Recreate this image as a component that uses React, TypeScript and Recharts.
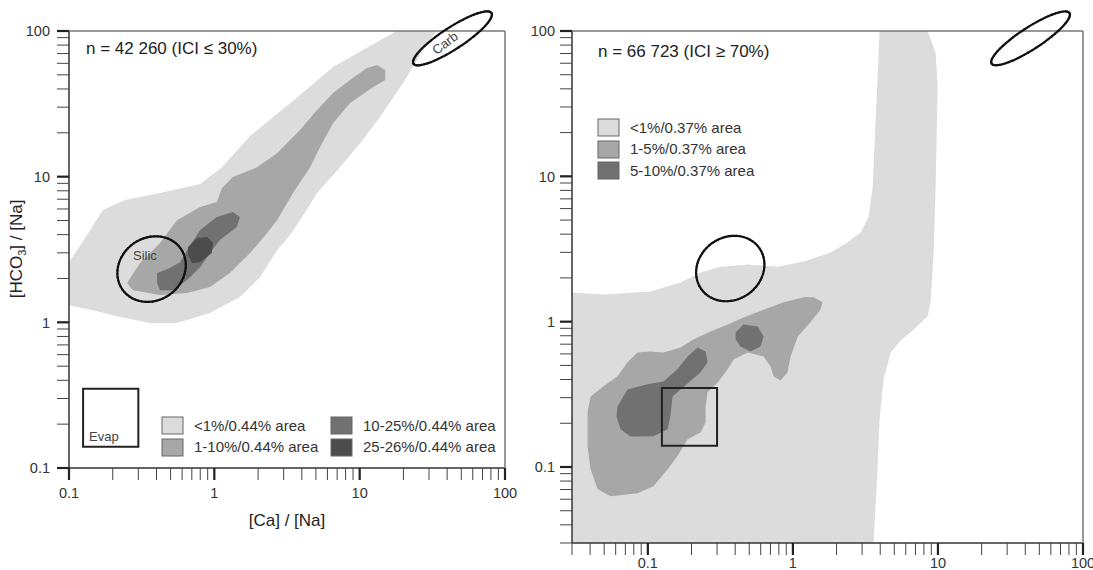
import React from "react"
import { ScatterChart, Scatter, XAxis, YAxis, ReferenceArea, ReferenceLine, Curve } from "recharts"

// contour outlines, [Ca]/[Na] (x) vs [HCO3]/[Na] (y), left panel (ICI <= 30%)
const leftBand1: [number, number][] = [
  [0.1, 1.31], [0.1, 2.59], [0.129, 3.79], [0.171, 5.9], [0.243, 6.91], [0.423, 7.71], [0.798, 8.89],
  [1.13, 11.6], [1.76, 19.0], [3.89, 36.3], [6.56, 56.6], [10.5, 74.1], [17.0, 96.9], [17.8, 100],
  [34.1, 100], [33.0, 96.9], [27.3, 74.1], [19.9, 44.0], [13.8, 25.7], [10.1, 17.0], [7.33, 11.6],
  [5.09, 7.71], [3.89, 5.03], [3.32, 3.97], [2.7, 3.13], [2.06, 2.04], [1.5, 1.49], [0.933, 1.16],
  [0.553, 0.989], [0.36, 0.989], [0.224, 1.09], [0.146, 1.21],
]
const leftBand2: [number, number][] = [
  [0.251, 1.86], [0.308, 2.55], [0.423, 3.5], [0.553, 5.03], [0.798, 6.18], [1.04, 6.69], [1.13, 8.35],
  [1.34, 9.94], [1.97, 11.6], [2.7, 14.5], [3.89, 20.9], [5.09, 28.7], [6.56, 37.5], [8.59, 46.1],
  [11.2, 55.7], [13.2, 58.4], [15.0, 54.0], [15.0, 46.1], [12.4, 41.2], [8.59, 32.0], [6.56, 23.3],
  [5.34, 16.0], [4.56, 11.6], [3.48, 7.71], [2.7, 5.03], [2.31, 4.1], [1.76, 2.99], [1.28, 2.18],
  [0.933, 1.75], [0.649, 1.59], [0.423, 1.54], [0.275, 1.66],
]
const leftBand3: [number, number][] = [
  [0.404, 1.86], [0.404, 2.18], [0.495, 2.36], [0.581, 2.59], [0.649, 3.13], [0.798, 4.3], [1.04, 5.28],
  [1.34, 5.71], [1.5, 5.28], [1.43, 4.51], [1.09, 3.67], [0.933, 2.99], [0.798, 2.39], [0.649, 1.95],
  [0.52, 1.66], [0.423, 1.66],
]
const leftBand4: [number, number][] = [
  [0.659, 3.28], [0.76, 3.79], [0.891, 3.85], [0.98, 3.5], [0.96, 2.99], [0.798, 2.59], [0.703, 2.55], [0.659, 2.9],
]

// right panel (ICI >= 70%)
const rightBand1: [number, number][] = [
  [0.03, 0.03], [0.03, 1.59], [0.0495, 1.54], [0.104, 1.61], [0.168, 1.86], [0.231, 2.18], [0.317, 2.39],
  [0.488, 2.47], [0.783, 2.39], [1.19, 2.59], [1.82, 2.99], [2.38, 3.5], [2.93, 4.1], [3.33, 5.28],
  [3.55, 8.48], [3.72, 24.5], [3.9, 70.6], [3.96, 100], [8.49, 100], [9.64, 70.6], [9.95, 41.2],
  [9.64, 8.48], [9.34, 2.99], [8.91, 1.36], [8.49, 1.09], [6.8, 0.883], [5.53, 0.743], [4.72, 0.614],
  [4.22, 0.401], [3.96, 0.213], [3.78, 0.0738], [3.6, 0.03],
]
const rightBand2: [number, number][] = [
  [0.0403, 0.0966], [0.045, 0.0705], [0.0553, 0.063], [0.0849, 0.066], [0.109, 0.0738], [0.137, 0.0966],
  [0.16, 0.119], [0.188, 0.155], [0.231, 0.173], [0.25, 0.203], [0.25, 0.262], [0.258, 0.327],
  [0.303, 0.382], [0.355, 0.47], [0.39, 0.55], [0.488, 0.614], [0.628, 0.577], [0.701, 0.492],
  [0.736, 0.421], [0.822, 0.394], [0.918, 0.448], [0.964, 0.577], [1.08, 0.791], [1.32, 0.989],
  [1.55, 1.21], [1.6, 1.36], [1.39, 1.47], [1.19, 1.47], [0.863, 1.36], [0.628, 1.21], [0.457, 1.07],
  [0.355, 0.957], [0.27, 0.857], [0.206, 0.755], [0.168, 0.665], [0.128, 0.614], [0.104, 0.624],
  [0.0849, 0.614], [0.0724, 0.525], [0.0618, 0.421], [0.0495, 0.359], [0.0403, 0.306], [0.0384, 0.238],
  [0.0384, 0.139],
]
const rightBand3a: [number, number][] = [
  [0.0618, 0.262], [0.0724, 0.342], [0.0995, 0.371], [0.128, 0.388], [0.16, 0.47], [0.188, 0.577],
  [0.22, 0.665], [0.25, 0.624], [0.258, 0.525], [0.231, 0.448], [0.168, 0.342], [0.148, 0.306],
  [0.143, 0.223], [0.137, 0.182], [0.109, 0.163], [0.076, 0.162], [0.0648, 0.182], [0.0608, 0.223],
]
const rightBand3b: [number, number][] = [
  [0.403, 0.843], [0.457, 0.957], [0.572, 0.927], [0.628, 0.791], [0.598, 0.676], [0.51, 0.624],
  [0.435, 0.676], [0.403, 0.755],
]

// end-member fields (center, semi-axes in decades, tilt in degrees)
const silic = { x: 0.37, y: 2.32, a: 0.245, b: 0.215, angle: 35 }
const carb = { x: 43.5, y: 89, a: 0.32, b: 0.075, angle: 33 }
const evap = { x1: 0.125, x2: 0.3, y1: 0.14, y2: 0.35 }

const ticksLeft = [0.1, 0.2, 0.3, 0.4, 0.5, 0.6, 0.7, 0.8, 0.9, 1, 2, 3, 4, 5, 6, 7, 8, 9, 10, 20, 30, 40, 50, 60, 70, 80, 90, 100]
const ticksRight = [0.03, 0.04, 0.05, 0.06, 0.07, 0.08, 0.09, ...ticksLeft]
const majorTicks = [0.1, 1, 10, 100]
const majorLabels = ["0.1", "1", "10", "100"]

const legendLeft = ["<1%/0.44% area", "1-10%/0.44% area", "10-25%/0.44% area", "25-26%/0.44% area"]
const legendRight = ["<1%/0.37% area", "1-5%/0.37% area", "5-10%/0.37% area"]

const C1 = "#dcdcdc"
const C2 = "#a7a7a7"
const C3 = "#717171"
const C4 = "#4c4c4c"
const FONT = "'Liberation Sans', Arial, sans-serif"
const TICK_LEN = 12

const toPts = (arr: [number, number][]) => arr.map(([x, y]) => ({ x, y }))

function ellipse(e: typeof silic, n = 60) {
  const pts: { x: number; y: number }[] = []
  const t = (e.angle * Math.PI) / 180
  for (let i = 0; i < n; i++) {
    const p = (i / n) * 2 * Math.PI
    const lx = Math.log10(e.x) + e.a * Math.cos(p) * Math.cos(t) - e.b * Math.sin(p) * Math.sin(t)
    const ly = Math.log10(e.y) + e.a * Math.cos(p) * Math.sin(t) + e.b * Math.sin(p) * Math.cos(t)
    pts.push({ x: 10 ** lx, y: 10 ** ly })
  }
  return pts
}

function Outline({ e }: { e: typeof silic }) {
  const pts = ellipse(e)
  return (
    <>
      {pts.map((p, i) => (
        <ReferenceLine
          key={i}
          segment={[p, pts[(i + 1) % pts.length]]}
          ifOverflow="visible"
          stroke="#111"
          strokeWidth={2.2}
          strokeLinecap="round"
          zIndex={1000}
        />
      ))}
    </>
  )
}

const makeXTick = (gap: number, lift = 0) => (props: any) => {
  const { x, y, payload } = props
  const idx = majorTicks.indexOf(payload.value)
  if (idx < 0) return <g />
  return (
    <g>
      <line x1={x} x2={x} y1={y - gap - TICK_LEN} y2={y - gap} stroke="#222" strokeWidth={2.2} />
      <text x={x} y={y - lift} dy="0.72em" textAnchor="middle" fontSize={14.5} fill="#333" fontFamily={FONT}>
        {majorLabels[idx]}
      </text>
    </g>
  )
}

const makeYTick = (gap: number) => (props: any) => {
  const { x, y, payload } = props
  const idx = majorTicks.indexOf(payload.value)
  if (idx < 0) return <g />
  return (
    <g>
      <line x1={x + gap} x2={x + gap + TICK_LEN} y1={y} y2={y} stroke="#222" strokeWidth={2.2} />
      <text x={x} y={y} dy="0.36em" textAnchor="end" fontSize={14.5} fill="#333" fontFamily={FONT}>
        {majorLabels[idx]}
      </text>
    </g>
  )
}

const band = (data: [number, number][], color: string, key: string) => (
  <Scatter
    key={key}
    data={toPts(data)}
    isAnimationActive={false}
    zIndex={100}
    shape={() => <g />}
    lineType="joint"
    line={(p: any) => <Curve points={p.points} type="linearClosed" fill={color} stroke="none" />}
  />
)

function Swatch({ x, y, color }: { x: number; y: number; color: string }) {
  return <rect x={x} y={y} width={21} height={17} fill={color} stroke="#666" strokeWidth={1} />
}

export default function App() {
  const axisLine = { stroke: "#333", strokeWidth: 1.5 }
  return (
    <div style={{ position: "absolute", left: 0, top: 0, width: 1093, height: 570, background: "#fff", fontFamily: FONT }}>
      <div style={{ position: "absolute", left: 0, top: 0 }}>
        <ScatterChart width={546} height={570} margin={{ top: 31, right: 41, bottom: 42, left: 20 }}>
          {band(leftBand1, C1, "l1")}
          {band(leftBand2, C2, "l2")}
          {band(leftBand3, C3, "l3")}
          {band(leftBand4, C4, "l4")}
          <XAxis
            dataKey="x"
            type="number"
            scale="log"
            domain={[0.1, 100]}
            allowDataOverflow
            ticks={ticksLeft}
            interval={0}
            tickSize={TICK_LEN}
            tickMargin={8}
            tickLine={{ stroke: "#444" }}
            tick={makeXTick(8)}
            axisLine={axisLine}
            height={60}
            label={{ value: "[Ca] / [Na]", position: "insideBottom", offset: 2, fontSize: 17, fill: "#222", fontFamily: FONT }}
          />
          <YAxis
            dataKey="y"
            type="number"
            scale="log"
            domain={[0.1, 100]}
            allowDataOverflow
            ticks={ticksLeft}
            interval={0}
            tickSize={TICK_LEN}
            tickMargin={7}
            tickLine={{ stroke: "#444" }}
            tick={makeYTick(7)}
            axisLine={axisLine}
            width={49}
          />
          <ReferenceLine y={100} stroke="#777" strokeWidth={1.5} zIndex={1000} />
          <ReferenceLine x={100} stroke="#777" strokeWidth={1.5} zIndex={1000} />
          <ReferenceArea
            {...evap}
            fill="none"
            stroke="#222"
            strokeWidth={2}
            fillOpacity={0}
            zIndex={1000}
            label={{ value: "Evap", position: "insideBottomLeft", offset: 6, fontSize: 13, fill: "#444", fontFamily: FONT }}
          />
          <Outline e={silic} />
          <Outline e={carb} />
        </ScatterChart>
      </div>

      <div style={{ position: "absolute", left: 520, top: 0 }}>
        <ScatterChart width={573} height={570} margin={{ top: 31, right: 10, bottom: 0, left: 12 }}>
          {band(rightBand1, C1, "r1")}
          {band(rightBand2, C2, "r2")}
          {band(rightBand3a, C3, "r3a")}
          {band(rightBand3b, C3, "r3b")}
          <XAxis
            dataKey="x"
            type="number"
            scale="log"
            domain={[0.03, 100]}
            allowDataOverflow
            ticks={ticksRight}
            interval={0}
            tickSize={TICK_LEN}
            tickMargin={4}
            tickLine={{ stroke: "#444" }}
            tick={makeXTick(4, 1)}
            axisLine={axisLine}
            height={27}
          />
          <YAxis
            dataKey="y"
            type="number"
            scale="log"
            domain={[0.03, 100]}
            allowDataOverflow
            ticks={ticksRight}
            interval={0}
            tickSize={TICK_LEN}
            tickMargin={5}
            tickLine={{ stroke: "#444" }}
            tick={makeYTick(5)}
            axisLine={axisLine}
            width={40}
          />
          <ReferenceLine y={100} stroke="#777" strokeWidth={1.5} zIndex={1000} />
          <ReferenceLine x={100} stroke="#777" strokeWidth={1.5} zIndex={1000} />
          <ReferenceArea {...evap} fill="none" stroke="#222" strokeWidth={2} fillOpacity={0} zIndex={1000} />
          <Outline e={silic} />
          <Outline e={carb} />
        </ScatterChart>
      </div>

      <svg width={1093} height={570} style={{ position: "absolute", left: 0, top: 0, pointerEvents: "none" }} fontFamily={FONT}>
        <text x={86} y={53.6} fontSize={17} fill="#222">n = 42 260 (ICI ≤ 30%)</text>
        <text x={598} y={57} fontSize={17} fill="#222">n = 66 723 (ICI ≥ 70%)</text>
        <text transform="translate(16,249) rotate(-90)" textAnchor="middle" dy="0.36em" fontSize={17} fill="#222">
          [HCO<tspan fontSize={11} dy={4}>3</tspan>
          <tspan dy={-4}>] / [Na]</tspan>
        </text>
        <text x={133} y={259.7} fontSize={13} fill="#444">Silic</text>
        <text transform="translate(445,43) rotate(-37)" textAnchor="middle" dy="0.36em" fontSize={13} fill="#444">Carb</text>

        <Swatch x={162} y={417} color={C1} />
        <Swatch x={162} y={439} color={C2} />
        <Swatch x={331} y={417} color={C3} />
        <Swatch x={331} y={439} color={C4} />
        <text x={194} y={431.4} fontSize={15} fill="#333">{legendLeft[0]}</text>
        <text x={194} y={452.4} fontSize={15} fill="#333">{legendLeft[1]}</text>
        <text x={363} y={431.4} fontSize={15} fill="#333">{legendLeft[2]}</text>
        <text x={363} y={452.4} fontSize={15} fill="#333">{legendLeft[3]}</text>

        <Swatch x={598} y={119} color={C1} />
        <Swatch x={598} y={141} color={C2} />
        <Swatch x={598} y={162} color={C3} />
        <text x={630} y={133.4} fontSize={15} fill="#333">{legendRight[0]}</text>
        <text x={630} y={154.4} fontSize={15} fill="#333">{legendRight[1]}</text>
        <text x={630} y={176.4} fontSize={15} fill="#333">{legendRight[2]}</text>
      </svg>
    </div>
  )
}
